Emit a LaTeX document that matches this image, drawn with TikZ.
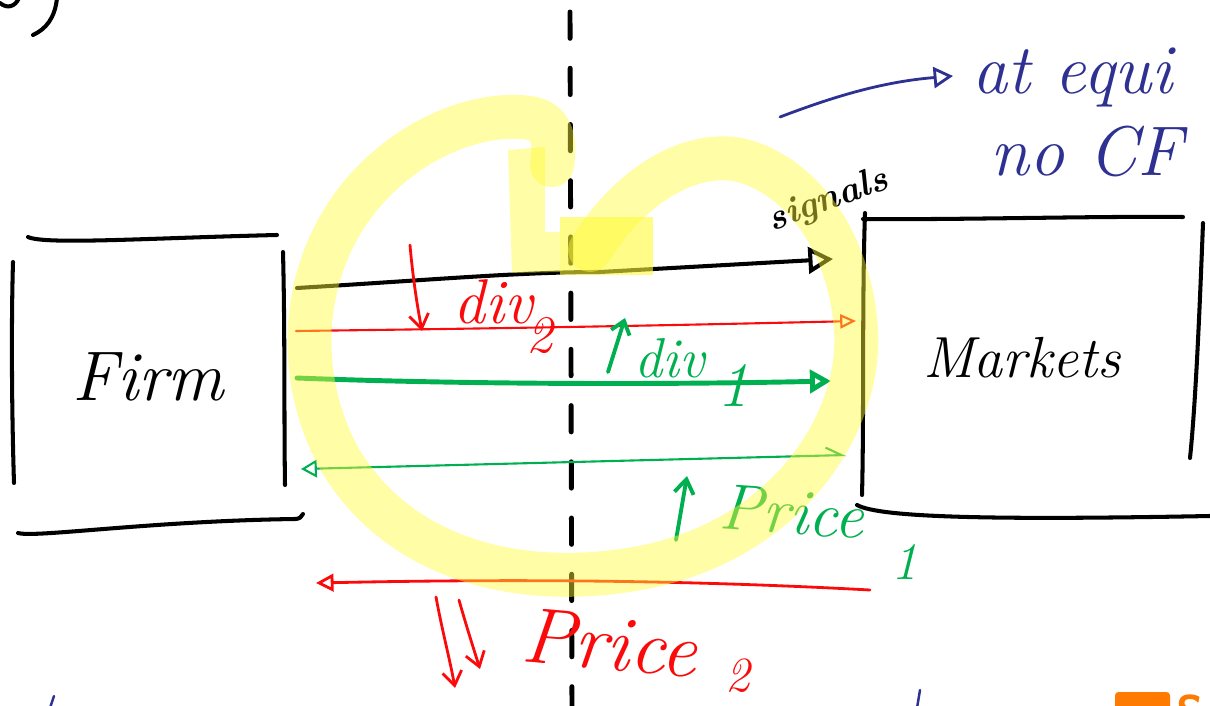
\documentclass[tikz,border=0pt]{standalone}
\usepackage{fontspec}
\usetikzlibrary{arrows.meta}
\definecolor{pred}{RGB}{250,10,10}
\definecolor{pgreen}{RGB}{0,176,80}
\definecolor{pblue}{RGB}{46,49,146}
\definecolor{porange}{RGB}{255,122,0}
\definecolor{hl}{RGB}{255,250,55}
\newcommand\fsz[1]{\fontsize{#1}{#1}\selectfont}
\tikzset{
  ink/.style={line width=2.3pt, black},
  lab/.style={inner sep=0pt, font=\itshape},
  hlstroke/.style={hl, line width=25pt, opacity=0.45},
}
\begin{document}
\begin{tikzpicture}[x=0.02cm,y=-0.02cm,line cap=round,line join=round]
\useasboundingbox (0,0) rectangle (1210,706);
\clip (0,0) rectangle (1210,706);

% fragment at top left
\draw[ink] (57,-2) .. controls (55,18) and (46,29) .. (33,35);
\draw[ink] (0,3) .. controls (7,9) and (15,7) .. (19,-2);

% dashed divider
\coordinate (dtop) at (570,12);
\coordinate (dbot) at (572,712);
\draw[black, line width=2.8pt, dash pattern=on 15pt off 17pt] (dtop) -- (dbot);

% Firm box
\draw[ink] (28,237) .. controls (45,245) and (150,238) .. (277,235);
\draw[ink] (13,262) .. controls (11,330) and (12,420) .. (14,483);
\draw[ink] (283,252) .. controls (285,330) and (284,420) .. (285,485);
\draw[ink] (18,533) .. controls (35,538) and (150,521) .. (295,519) .. controls (299,519) and (302,517) .. (303,514);
\node[lab, font=\itshape\fsz{40}] (firm) at (148,377) {Firm};

% Markets box
\draw[ink] (865,213) .. controls (862,300) and (864,420) .. (862,495);
\draw[ink] (863,219) .. controls (950,220) and (1100,216) .. (1183,217);
\draw[ink] (1203,223) .. controls (1200,300) and (1196,400) .. (1190,458);
\draw[ink] (857,505) .. controls (880,518) and (1000,520) .. (1210,516);
\node[lab, font=\itshape\fsz{33}] (mkts) at (1022,358) {Markets};

% signals arrow
\coordinate (bS) at (297,288);
\coordinate (bM) at (600,272);
\coordinate (bE) at (833,259);
\draw[ink, -{Triangle[open,length=14pt,width=15pt]}] (bS) .. controls (430,280) and (520,272) .. (bM) -- (bE);
\node[lab, font=\bfseries\itshape\fsz{21}, rotate=20] (sig) at (828,201) {signals};

% dividend 2 (red)
\coordinate (rS) at (296,331);
\coordinate (rE) at (856,321);
\draw[pred, line width=1.2pt, -{Triangle[open,length=9pt,width=8pt]}] (rS) .. controls (450,329) and (600,327) .. (rE);
\coordinate (rdA) at (410,245);
\coordinate (rdB) at (422,331);
\draw[pred, line width=1.6pt, -{Straight Barb[length=8pt,width=11pt]}] (rdA) .. controls (413,280) and (418,310) .. (rdB);
\node[lab, text=pred, font=\itshape\fsz{36}] (div2) at (493,302) {div};
\node[lab, text=pred, font=\itshape\fsz{30}] (sub2) at (540,336) {2};

% dividend 1 (green)
\coordinate (gS) at (297,378);
\coordinate (gE) at (831,381);
\draw[pgreen, line width=2.8pt, -{Triangle[open,length=12pt,width=13pt]}] (gS) .. controls (450,384) and (650,385) .. (gE);
\coordinate (guA) at (608,372);
\coordinate (guB) at (625,318);
\draw[pgreen, line width=2.2pt, -{Straight Barb[length=7pt,width=11pt]}] (guA) -- (guB);
\node[lab, text=pgreen, font=\itshape\fsz{32}] (div1) at (670,358) {div};
\node[lab, text=pgreen, font=\itshape\fsz{36}] (sub1) at (733,385) {1};

% price 1 (green, thin)
\coordinate (pgL) at (301,469);
\coordinate (pgR) at (846,455);
\draw[pgreen, line width=1.2pt, {Triangle[open,length=9pt,width=10pt]}-{Straight Barb[left,length=9pt,width=9pt]}] (pgL) -- (pgR);
\coordinate (puA) at (676,540);
\coordinate (puB) at (687,476);
\draw[pgreen, line width=2.2pt, -{Straight Barb[length=8pt,width=11pt]}] (puA) -- (puB);
\node[lab, text=pgreen, font=\itshape\fsz{37}, rotate=-4] (price1) at (792,512) {Price};
\node[lab, text=pgreen, font=\itshape\fsz{30}] (psub1) at (905,562) {1};

% price 2 (red, bottom)
\coordinate (prL) at (316,583);
\coordinate (prR) at (870,590);
\draw[pred, line width=1.6pt, {Triangle[open,length=10pt,width=10pt]}-] (prL) .. controls (460,580) and (650,578) .. (prR);
\coordinate (pdA) at (436,597);
\coordinate (pdB) at (455,688);
\coordinate (pdC) at (459,600);
\coordinate (pdD) at (480,669);
\draw[pred, line width=1.6pt, -{Straight Barb[length=8pt,width=11pt]}] (pdA) .. controls (442,630) and (450,660) .. (pdB);
\draw[pred, line width=1.6pt, -{Straight Barb[length=8pt,width=11pt]}] (pdC) .. controls (466,625) and (474,650) .. (pdD);
\node[lab, text=pred, font=\itshape\fsz{45}, rotate=-5] (price2) at (610,643) {Price};
\node[lab, text=pred, font=\itshape\fsz{28}] (psub2) at (738,676) {2};

% blue note
\coordinate (blS) at (780,117);
\coordinate (blE) at (953,76);
\draw[pblue, line width=1.6pt, -{Triangle[open,length=11pt,width=12pt]}] (blS) .. controls (830,98) and (880,82) .. (blE);
\node[lab, text=pblue, font=\itshape\fsz{40}, anchor=base west] (eq) at (972,93) {at equi};
\node[lab, text=pblue, font=\itshape\fsz{40}, anchor=base west] (nocf) at (990,175) {no CF};

% bottom fragments
\draw[pblue, line width=1.4pt] (54,696) -- (50,708);
\draw[pblue, line width=1.4pt] (920,690) -- (917,708);
\fill[porange, rounded corners=2pt] (1115,692) rectangle (1170,712);
\node[inner sep=0pt, anchor=north west, text=porange, font=\sffamily\bfseries\fsz{26}] (sc) at (1176,694) {Sc};

% yellow highlighter on top
\draw[hlstroke]
  (590,250) .. controls (630,185) and (690,150) .. (740,160)
  .. controls (800,175) and (850,240) .. (856,330)
  .. controls (862,420) and (790,540) .. (640,568)
  .. controls (520,590) and (400,560) .. (340,460)
  .. controls (290,370) and (300,250) .. (380,175)
  .. controls (430,128) and (490,112) .. (530,118)
  .. controls (552,122) and (556,140) .. (552,165);
\fill[hl, opacity=0.45] (508,150) -- (545,147) -- (545,232) -- (560,232) -- (560,272) -- (512,273) -- cycle;
\fill[hl, opacity=0.6] (560,217) rectangle (653,275);
\end{tikzpicture}
\end{document}
